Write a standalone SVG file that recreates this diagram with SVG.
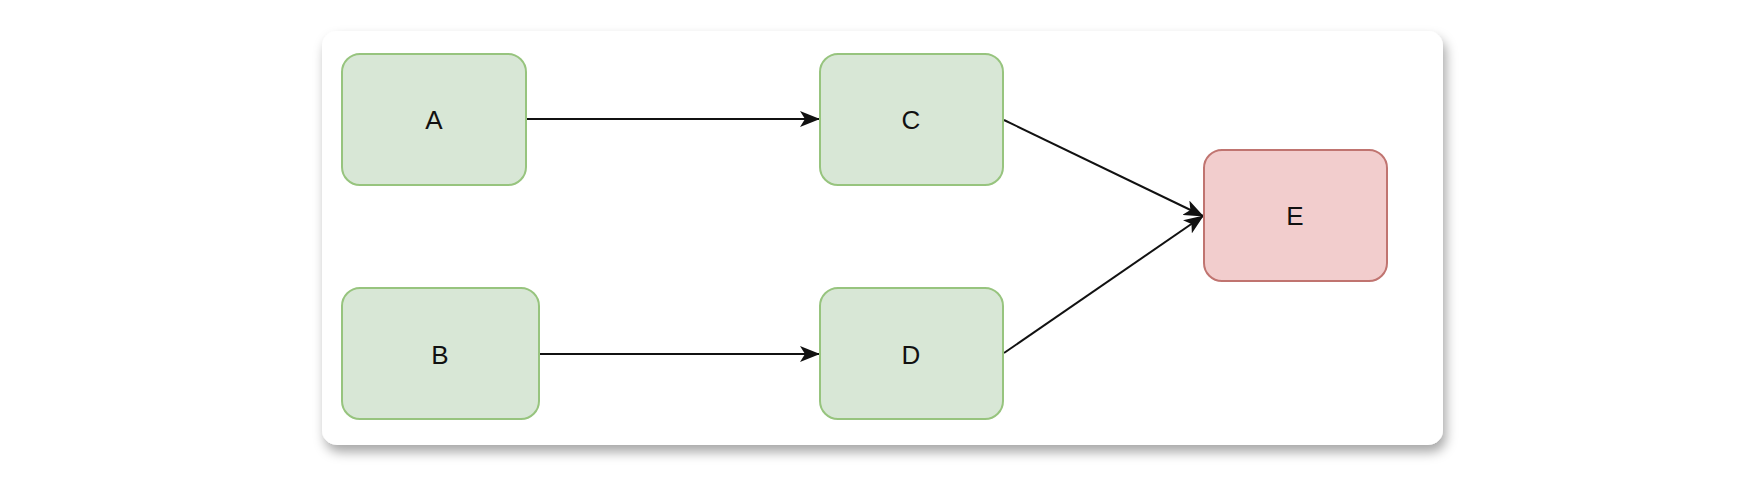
<svg xmlns="http://www.w3.org/2000/svg" width="1755" height="477" viewBox="0 0 1755 477">
<style>
.g{fill:#d8e7d6;stroke:#97c47e;stroke-width:2}
.r{fill:#f2cdcd;stroke:#c07470;stroke-width:2}
.t{font-family:"Liberation Sans",Arial,sans-serif;font-size:26px;fill:#111;text-anchor:middle;dominant-baseline:central}
.e{fill:none;stroke:#111;stroke-width:2}
</style>
<defs>
<filter id="sh" x="-5%" y="-10%" width="110%" height="130%">
<feDropShadow dx="3" dy="7" stdDeviation="6" flood-color="#000" flood-opacity="0.35"/>
</filter>
<marker id="ar" viewBox="0 0 20 16" refX="19" refY="8" markerWidth="20" markerHeight="16" markerUnits="userSpaceOnUse" orient="auto">
<path d="M0,0 L20,8 L0,16 L5,8 Z" fill="#111"/>
</marker>
</defs>
<rect width="1755" height="477" fill="#fff"/>
<rect x="322" y="31" width="1121" height="414" rx="15" fill="#fff" filter="url(#sh)"/>
<g id="connectors">
<line class="e" x1="526" y1="119" x2="819" y2="119" marker-end="url(#ar)"/>
<line class="e" x1="539" y1="354" x2="819" y2="354" marker-end="url(#ar)"/>
<line class="e" x1="1004" y1="120" x2="1203" y2="216" marker-end="url(#ar)"/>
<line class="e" x1="1004" y1="353" x2="1203" y2="216" marker-end="url(#ar)"/>
</g>
<g id="A"><rect class="g" x="342" y="54" width="184" height="131" rx="18"/><text class="t" x="434" y="120">A</text></g>
<g id="B"><rect class="g" x="342" y="288" width="197" height="131" rx="18"/><text class="t" x="440" y="355">B</text></g>
<g id="C"><rect class="g" x="820" y="54" width="183" height="131" rx="18"/><text class="t" x="911" y="120">C</text></g>
<g id="D"><rect class="g" x="820" y="288" width="183" height="131" rx="18"/><text class="t" x="911" y="355">D</text></g>
<g id="E"><rect class="r" x="1204" y="150" width="183" height="131" rx="18"/><text class="t" x="1295" y="216">E</text></g>
</svg>
